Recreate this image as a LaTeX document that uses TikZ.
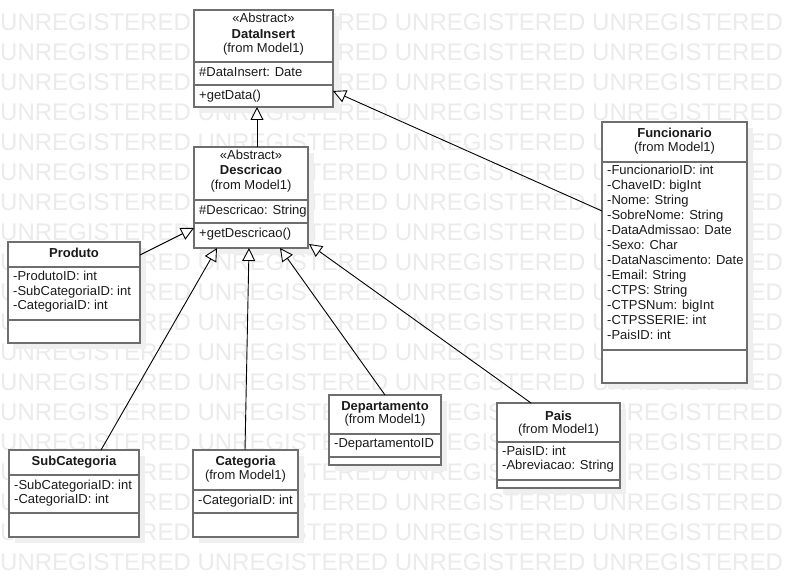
\documentclass[tikz,border=0pt]{standalone}
\usepackage{fontspec}
\setmainfont{Liberation Sans}
\usetikzlibrary{arrows.meta,calc,fit}

\definecolor{umlborder}{HTML}{6E6E6E}
\definecolor{umltext}{HTML}{1A1A1A}
\definecolor{wmgray}{HTML}{EBEBEB}
\definecolor{umlshadow}{HTML}{EFEFEF}

% one class box: name, left, top, right, bottom, first and second separator
\newcommand\umlclass[7]{%
  \fill[umlshadow] ({#2+6},{#3+6}) rectangle ({#4+6},{#5+6});
  \node[classbox, fit={(#2,#3) (#4,#5)}] (#1) {};
  \draw[sepline] (#2,#6) -- (#4,#6);
  \draw[sepline] (#2,#7) -- (#4,#7);
}

\begin{document}
\begin{tikzpicture}[x=1pt,y=-1pt,
  classbox/.style={draw=umlborder, line width=1.6pt, fill=white, inner sep=0pt, outer sep=0pt},
  sepline/.style={draw=umlborder, line width=1.6pt},
  wmark/.style={text=wmgray, inner sep=0pt, font=\fontsize{24}{24}\selectfont},
  ctitle/.style={text=umltext, inner sep=0pt, anchor=mid, font=\fontsize{13}{15}\selectfont\bfseries},
  cnote/.style={text=umltext, inner sep=0pt, anchor=mid, font=\fontsize{13}{15}\selectfont},
  cmember/.style={text=umltext, inner sep=0pt, anchor=mid west, font=\fontsize{13}{15}\selectfont},
  gen/.style={draw=black, line width=0.9pt, -{Triangle[length=13pt, width=13pt, fill=white, line width=0.9pt]}}
]
\useasboundingbox (0,0) rectangle (786,577);
\fill[white] (0,0) rectangle (786,577);

% background watermark rows
\foreach \k in {0,...,18}
  \node[wmark, anchor=base west] (wm\k) at (0,{30.2+30*\k})
    {UNREGISTERED UNREGISTERED UNREGISTERED UNREGISTERED};

% class boxes
\umlclass{di}{194}{10}{333}{107}{62}{85}
\umlclass{desc}{194}{147}{308}{248}{200}{223}
\umlclass{prod}{8}{242}{140}{343}{267}{320}
\umlclass{func}{602}{122}{747}{383}{162}{350}
\umlclass{subcat}{9}{450}{139}{537}{475}{513}
\umlclass{cat}{193}{450}{298}{537}{490}{513}
\umlclass{depto}{329}{395}{441}{465}{434}{457}
\umlclass{pais}{497}{403}{620}{488}{442}{480}

% DataInsert
\node[cnote] (diS) at (263.5,20) {«Abstract»};
\node[ctitle] (diT) at (263.5,36) {DataInsert};
\node[cnote] (diF) at (263.5,50) {(from Model1)};
\node[cmember] (diA) at (199,74) {\#DataInsert: Date};
\node[cmember] (diO) at (199,97) {+getData()};

% Descricao
\node[cnote] (descS) at (251,157) {«Abstract»};
\node[ctitle] (descT) at (251,172) {Descricao};
\node[cnote] (descF) at (251,187) {(from Model1)};
\node[cmember] (descA) at (199,212) {\#Descricao: String};
\node[cmember] (descO) at (199,235) {+getDescricao()};

% Produto
\node[ctitle] (prodT) at (74,255) {Produto};
\node[cmember] (prodA1) at (13,278) {-ProdutoID: int};
\node[cmember] (prodA2) at (13,292.5) {-SubCategoriaID: int};
\node[cmember] (prodA3) at (13,307) {-CategoriaID: int};

% Funcionario
\node[ctitle] (funcT) at (674.5,135) {Funcionario};
\node[cnote] (funcF) at (674.5,149) {(from Model1)};
\foreach \t [count=\i from 0] in {-FuncionarioID: int, -ChaveID: bigInt, -Nome: String,
    -SobreNome: String, -DataAdmissao: Date, -Sexo: Char, -DataNascimento: Date,
    -Email: String, -CTPS: String, -CTPSNum: bigInt, -CTPSSERIE: int, -PaisID: int}
  \node[cmember] (funcA\i) at (607,{172+15*\i}) {\t};

% SubCategoria
\node[ctitle] (subcatT) at (74,463) {SubCategoria};
\node[cmember] (subcatA1) at (14,487) {-SubCategoriaID: int};
\node[cmember] (subcatA2) at (14,501) {-CategoriaID: int};

% Categoria
\node[ctitle] (catT) at (245.5,463) {Categoria};
\node[cnote] (catF) at (245.5,477) {(from Model1)};
\node[cmember] (catA) at (198,502) {-CategoriaID: int};

% Departamento
\node[ctitle] (deptoT) at (385,408) {Departamento};
\node[cnote] (deptoF) at (385,421) {(from Model1)};
\node[cmember] (deptoA) at (334,445) {-DepartamentoID};

% Pais
\node[ctitle] (paisT) at (558.5,418) {Pais};
\node[cnote] (paisF) at (558.5,431) {(from Model1)};
\node[cmember] (paisA1) at (502,453) {-PaisID: int};
\node[cmember] (paisA2) at (502,467) {-Abreviacao: String};

% generalizations
\draw[gen] ($(desc.north west)+(63,0)$) -- ($(di.south west)+(63,0)$);
\draw[gen] ($(func.north west)+(0,89)$) -- ($(di.north east)+(0,81)$);
\draw[gen] ($(prod.north east)+(0,13)$) -- ($(desc.south west)+(0,-20)$);
\draw[gen] ($(subcat.north west)+(92,0)$) -- ($(desc.south west)+(23,0)$);
\draw[gen] ($(cat.north west)+(52,0)$) -- ($(desc.south west)+(55,0)$);
\draw[gen] ($(depto.north west)+(56,0)$) -- ($(desc.south west)+(86,0)$);
\draw[gen] ($(pais.north west)+(34,0)$) -- ($(desc.south east)+(1,-4)$);
\end{tikzpicture}
\end{document}
